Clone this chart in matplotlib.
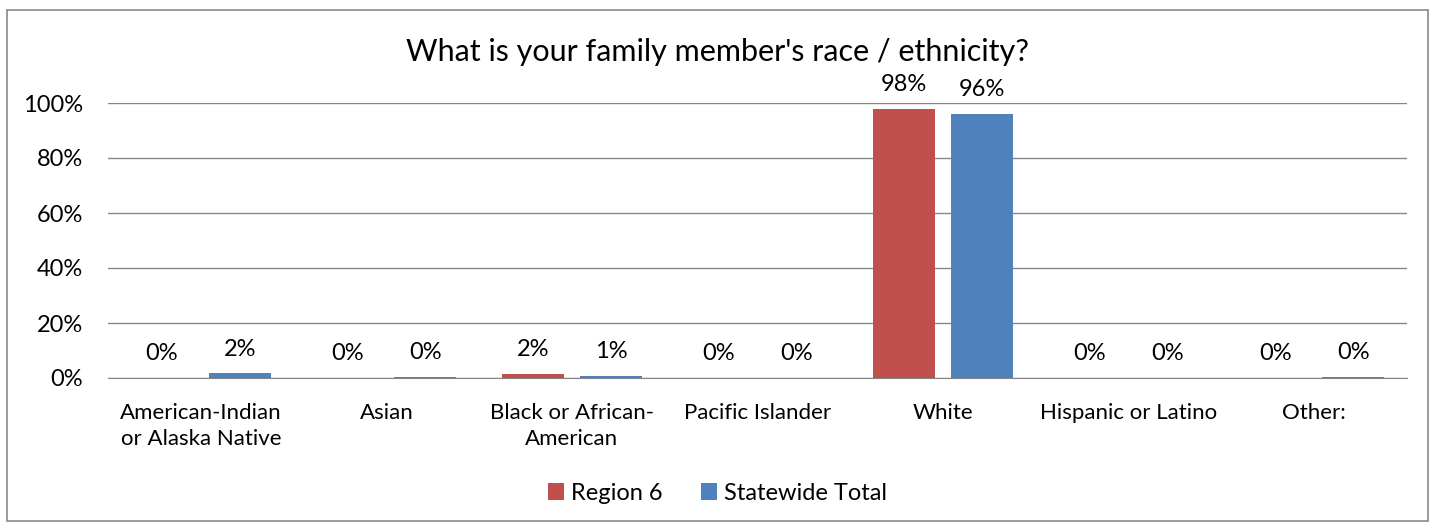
import numpy as np
import matplotlib.pyplot as plt
from matplotlib.patches import Rectangle

categories = ["American-Indian\nor Alaska Native", "Asian", "Black or African-\nAmerican",
              "Pacific Islander", "White", "Hispanic or Latino", "Other:"]
region6 = [0.0, 0.0, 1.5, 0.0, 98.0, 0.0, 0.0]
statewide = [1.7, 0.3, 0.8, 0.0, 96.0, 0.0, 0.3]
series_names = ["Region 6", "Statewide Total"]
colors = ["#C0504D", "#4F81BD"]

plt.rcParams['font.family'] = ['Lato', 'DejaVu Sans']

fig = plt.figure(figsize=(14.35, 5.27), dpi=100)
ax = fig.add_axes([108 / 1435, 1 - 378 / 527, 1299 / 1435, 275 / 527])

# outer chart border
fig.patches.append(Rectangle((7 / 1435, 6 / 527), 1421 / 1435, 511 / 527,
                             transform=fig.transFigure, fill=False,
                             edgecolor="#898989", linewidth=1.2))

x = np.arange(len(categories))
w = 0.334
off = 0.21
b1 = ax.bar(x - off, region6, w, color=colors[0], label=series_names[0])
b2 = ax.bar(x + off, statewide, w, color=colors[1], label=series_names[1])

for bars, vals in [(b1, region6), (b2, statewide)]:
    for rect, v in zip(bars, vals):
        ax.text(rect.get_x() + rect.get_width() / 2, v + 5, "{:.0f}%".format(v),
                ha="center", va="bottom", fontsize=17)

ax.set_xlim(-0.5, len(categories) - 0.5)
ax.set_ylim(0, 100)
ax.set_yticks(range(0, 101, 20))
ax.set_yticklabels(["{}%".format(t) for t in range(0, 101, 20)], fontsize=17)
ax.set_xticks(x)
ax.set_xticklabels(categories, fontsize=16, linespacing=1.4)
ax.tick_params(axis="y", length=0, pad=18)
ax.tick_params(axis="x", length=0, pad=18)
ax.grid(axis="y", color="#868686", linewidth=1)
ax.set_axisbelow(True)
for s in ["top", "right", "left"]:
    ax.spines[s].set_visible(False)
ax.spines["bottom"].set_color("#868686")

fig.text(0.5, 1 - 52 / 527, "What is your family member's race / ethnicity?",
         ha="center", va="center", fontsize=22)

ax.legend(loc="center", bbox_to_anchor=(0.5, 1 - 493 / 527), bbox_transform=fig.transFigure,
          ncol=2, frameon=False, fontsize=17, handlelength=0.7, handleheight=0.7,
          handletextpad=0.3, columnspacing=1.6)

fig.savefig("out.png", dpi=100)
